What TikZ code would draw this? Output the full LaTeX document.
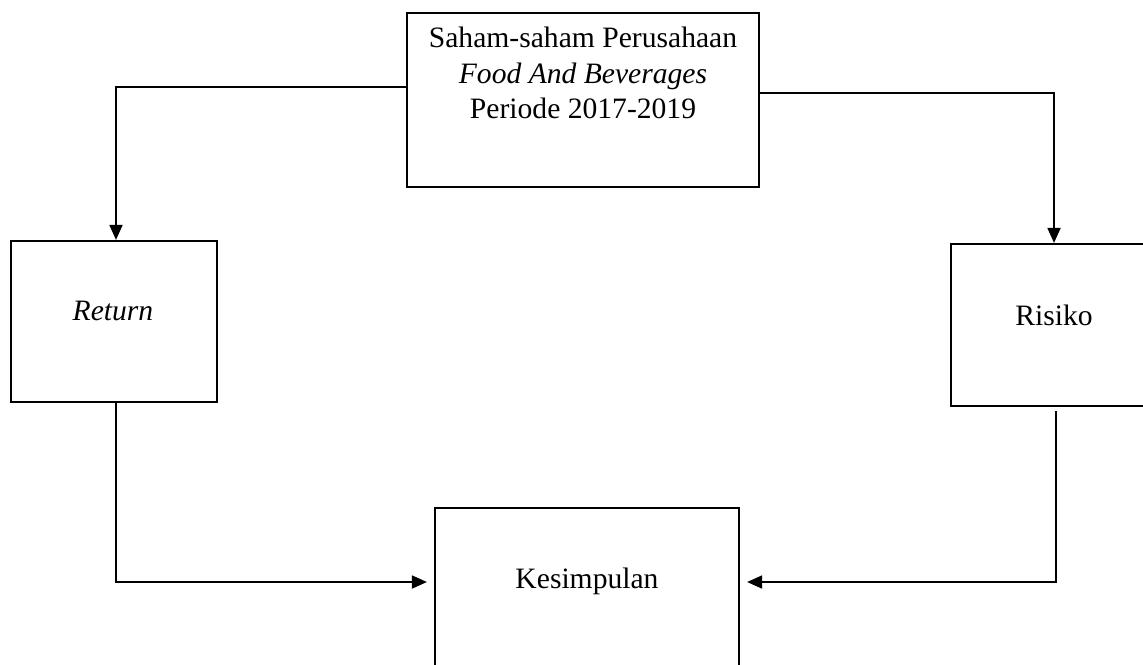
\documentclass[tikz,border=0pt]{standalone}
\usepackage{fontspec}
\setmainfont{Liberation Serif}
\usetikzlibrary{arrows.meta}

\begin{document}
\begin{tikzpicture}[x=0.5pt,y=-0.5pt] % one unit is one pixel of the layout
\tikzset{box/.style={draw, line width=1.1pt, inner sep=0pt}}
\tikzset{conn/.style={line width=0.9pt, -{Triangle[length=7.5pt,width=6.5pt]}}}
\tikzset{txt/.style={font=\fontsize{14.8}{17.8}\selectfont, inner sep=0pt}}
\useasboundingbox (0,0) rectangle (1143,664);
\clip (0,0) rectangle (1143,664);
% boxes
\node[box, minimum width=176pt, minimum height=87pt] (saham) at (583,100) {};
\node[box, minimum width=103pt, minimum height=80.5pt] (return) at (114,321.5) {};
\node[box, minimum width=103pt, minimum height=81pt] (risiko) at (1054,325) {};
\node[box, minimum width=152pt, minimum height=80pt] (kesimpulan) at (587,588) {};
% texts
\node[txt, align=center] (sahamtxt) at (583,73) {Saham-saham Perusahaan\\ \textit{Food And Beverages}\\ Periode 2017-2019};
\node[txt, anchor=base] (returntxt) at (113,320) {\textit{Return}};
\node[txt, anchor=base] (risikotxt) at (1054,325) {Risiko};
\node[txt, anchor=base] (kesimpulantxt) at (587,588) {Kesimpulan};
% connectors
\draw[conn] ([yshift=6.5pt]saham.west) -| ([xshift=1pt]return.north);
\draw[conn] ([yshift=3.5pt]saham.east) -| (risiko.north);
\draw[conn, shorten >=3.5pt] ([xshift=1pt]return.south) |- ([yshift=3pt]kesimpulan.west);
\draw[conn, shorten >=3.5pt] ([xshift=1pt,yshift=-2pt]risiko.south) |- ([yshift=3pt]kesimpulan.east);
\end{tikzpicture}
\end{document}
